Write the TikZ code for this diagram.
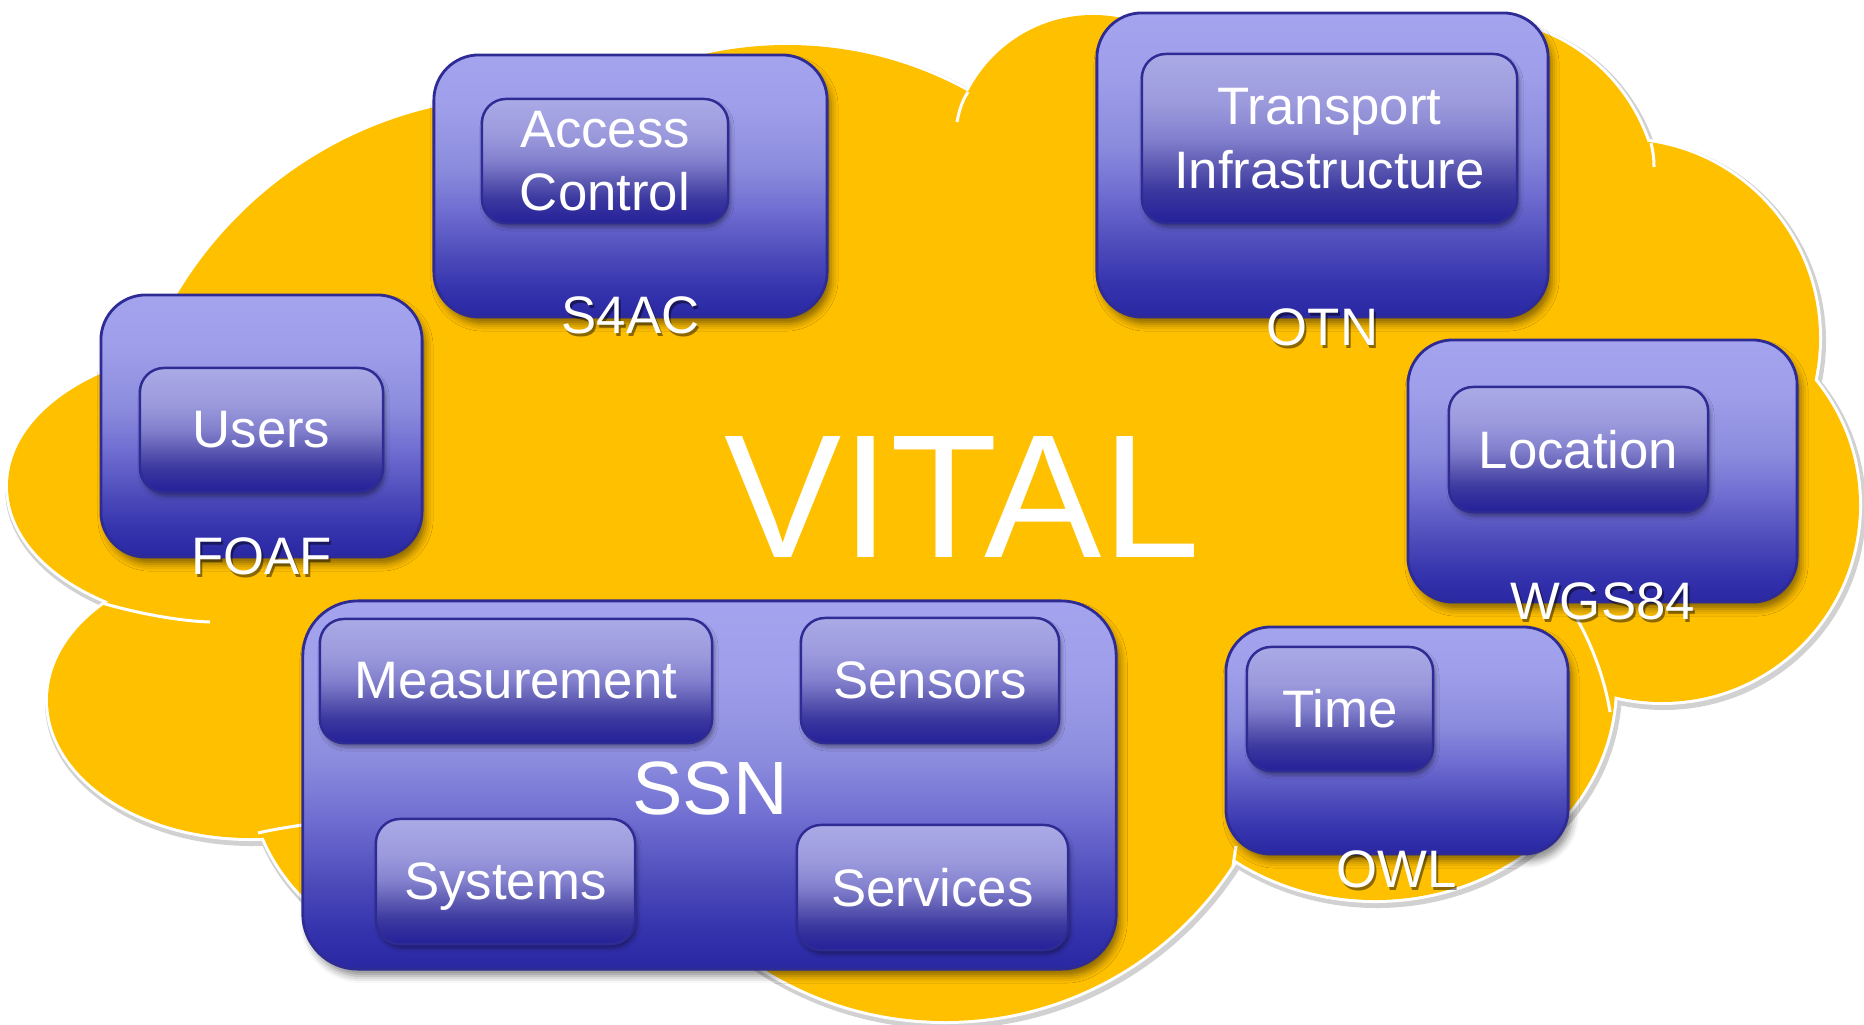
\documentclass[tikz,border=0pt]{standalone}
\usepackage{fontspec}
\setmainfont{Liberation Sans}
\usetikzlibrary{shadows.blur}

% colours
\definecolor{cloudgold}{RGB}{255,192,0}
\definecolor{boxrim}{RGB}{46,44,148}
\definecolor{ob0}{RGB}{42,39,163}
\definecolor{ob1}{RGB}{52,50,172}
\definecolor{ob2}{RGB}{80,78,188}
\definecolor{ob3}{RGB}{110,108,208}
\definecolor{ob4}{RGB}{140,140,222}
\definecolor{ob5}{RGB}{158,158,234}
\definecolor{ob6}{RGB}{163,163,238}
\definecolor{ib0}{RGB}{36,32,152}
\definecolor{ib1}{RGB}{60,57,160}
\definecolor{ib2}{RGB}{95,92,180}
\definecolor{ib3}{RGB}{130,128,205}
\definecolor{ib4}{RGB}{155,153,220}
\definecolor{ib5}{RGB}{170,170,230}

% box fills, bottom (25bp) to top (75bp)
\pgfdeclareverticalshading{outerfill}{100bp}{color(0bp)=(ob0); color(25bp)=(ob0); color(30bp)=(ob1); color(37.5bp)=(ob2); color(45bp)=(ob3); color(53.5bp)=(ob4); color(65bp)=(ob5); color(75bp)=(ob6); color(100bp)=(ob6)}
\pgfdeclareverticalshading{innerfill}{100bp}{color(0bp)=(ib0); color(25bp)=(ib0); color(35bp)=(ib1); color(42.5bp)=(ib2); color(50bp)=(ib3); color(60bp)=(ib4); color(75bp)=(ib5); color(100bp)=(ib5)}

\tikzset{
  cloudshade/.style={draw=black!18, line width=0.10cm},
  cloudrim/.style={draw=white, line width=0.06cm},
  cloudfill/.style={fill=cloudgold},
  cloudarc/.style={draw=white, line width=0.03cm},
  outerbox/.style={draw=boxrim, line width=0.8pt, rounded corners=0.45cm,
    shading=outerfill, inner sep=0pt,
    blur shadow={shadow xshift=0.04cm, shadow yshift=-0.07cm, shadow blur radius=0.07cm, shadow opacity=45}},
  innerbox/.style={draw=boxrim, line width=0.7pt, rounded corners=0.24cm,
    shading=innerfill, inner sep=0pt, text=white, align=center,
    font=\fontsize{15pt}{18pt}\selectfont,
    blur shadow={shadow xshift=0.02cm, shadow yshift=-0.04cm, shadow blur radius=0.04cm, shadow opacity=40}},
  tag/.style={text=white, anchor=base, inner sep=0pt, font=\fontsize{15pt}{18pt}\selectfont},
  tagshade/.style={tag, text=black, opacity=0.45}
}

% label under a box, with its drop shadow
\newcommand{\boxtag}[4]{%
  \node[tagshade] (#1-shade) at (#2+2,#3+3) {#4};
  \node[tag] (#1) at (#2,#3) {#4};
}

% bumps of the cloud: centre x/centre y/x radius/y radius
\newcommand{\bumps}{230/486/222/138, 250/700/202/138, 460/770/210/190,
    945/679/342/342, 1375/685/240/215, 1662/505/197/197, 1621/338/198/198,
    1093/155/140/140, 1477/200/180/180, 525/502/405/405, 787/419/374/374,
    1000/470/460/300}

\begin{document}
\begin{tikzpicture}[x=0.01cm,y=-0.01cm]
\useasboundingbox (0,0) rectangle (1864,1024);

% cloud: shadow, rim, then the gold fill on top
\foreach \cx/\cy/\rx/\ry in \bumps
  \path[cloudshade] (\cx+2,\cy+3) ellipse[x radius=\rx, y radius=\ry];
\foreach \cx/\cy/\rx/\ry in \bumps
  \path[cloudrim] (\cx,\cy) ellipse[x radius=\rx, y radius=\ry];
\foreach \cx/\cy/\rx/\ry in \bumps
  \path[cloudfill] (\cx,\cy) ellipse[x radius=\rx, y radius=\ry];

% inner seams of the cloud
\draw[cloudarc] (102,603) .. controls (140,614) and (180,621) .. (210,622);
\draw[cloudarc] (258,833) .. controls (275,829) and (290,827) .. (302,825);
\draw[cloudarc] (968,92) .. controls (962,101) and (959,111) .. (957,122);
\draw[cloudarc] (1651,143) .. controls (1653,151) and (1654,159) .. (1654,167);
\draw[cloudarc] (1236,846) .. controls (1235,853) and (1234,859) .. (1233,866);
\draw[cloudarc] (1577,619) .. controls (1592,645) and (1605,680) .. (1610,712);

\node[text=white, anchor=base, inner sep=0pt, font=\fontsize{50pt}{60pt}\selectfont] (vital) at (962,557) {VITAL};

% ontologies
\node[outerbox, minimum width=3.93cm, minimum height=2.62cm] (s4acbox) at (630.5,186) {};
\node[outerbox, minimum width=3.21cm, minimum height=2.62cm] (foafbox) at (261.5,426) {};
\node[outerbox, minimum width=4.51cm, minimum height=3.04cm] (otnbox) at (1322.5,165) {};
\node[outerbox, minimum width=3.89cm, minimum height=2.62cm] (wgsbox) at (1602.5,471) {};
\node[outerbox, minimum width=3.42cm, minimum height=2.27cm] (owlbox) at (1397,740.5) {};
\node[outerbox, minimum width=8.13cm, minimum height=3.68cm, rounded corners=0.55cm] (ssnbox) at (709.5,785) {};

% concepts
\node[innerbox, minimum width=2.46cm, minimum height=1.24cm] (access) at (605,161) {Access\\Control};
\node[innerbox, minimum width=2.43cm, minimum height=1.24cm] (users) at (261.5,430) {Users};
\node[innerbox, minimum width=3.75cm, minimum height=1.69cm] (transport) at (1329.5,138.5) {Transport\\Infrastructure};
\node[innerbox, minimum width=2.59cm, minimum height=1.25cm] (location) at (1578.5,449.5) {Location};
\node[innerbox, minimum width=1.86cm, minimum height=1.24cm] (time) at (1340,709) {Time};
\node[innerbox, minimum width=3.92cm, minimum height=1.24cm] (measurement) at (516,681) {Measurement};
\node[innerbox, minimum width=2.58cm, minimum height=1.25cm] (sensors) at (930,680.5) {Sensors};
\node[innerbox, minimum width=2.59cm, minimum height=1.25cm, text depth=0pt] (systems) at (505.5,881.5) {Systems};
\node[innerbox, minimum width=2.71cm, minimum height=1.25cm] (services) at (932.5,887.5) {Services};

\node[text=white, anchor=base, inner sep=0pt, font=\fontsize{21.5pt}{26pt}\selectfont] (ssn) at (710,814) {SSN};

% names of the ontologies
\boxtag{s4ac}{630.5}{333}{S4AC}
\boxtag{foaf}{261.5}{574}{FOAF}
\boxtag{otn}{1322.5}{345}{OTN}
\boxtag{wgs}{1602.5}{619}{WGS84}
\boxtag{owl}{1397}{887}{OWL}
\end{tikzpicture}
\end{document}
